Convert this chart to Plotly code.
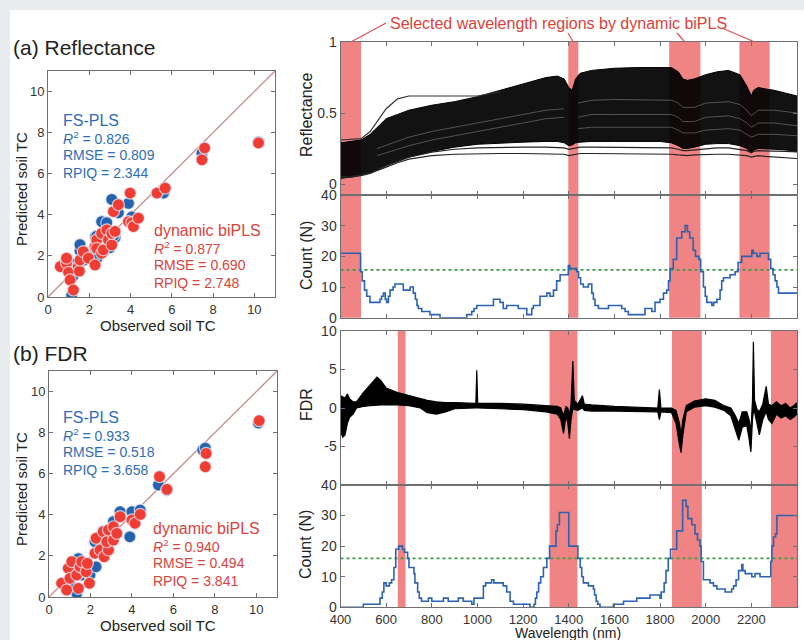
import plotly.graph_objects as go

W, H = 804, 640
def px(x): return x / W
def py(y): return 1 - y / H

FONT = "Liberation Sans, Arial, sans-serif"
BLUE = "#2563b0"
RED = "#ef3d33"
BLUE_T = "#2f6db5"
RED_T = "#d8433b"
BAND = "#f08383"

# ---------------- scatter data (observed, predicted) ----------------
a_fs_obs = [0.7, 0.9, 1.15, 1.2, 1.3, 1.55, 1.55, 1.75, 2.0, 2.12, 2.3, 2.36, 2.36, 2.6, 2.7, 2.85, 2.9, 3.0, 3.09, 3.25, 3.41, 3.2, 3.9, 4.06, 5.6, 7.46, 10.2]
a_fs_pred = [1.55, 1.85, 0.1, 1.0, 1.6, 2.25, 2.55, 1.8, 1.95, 1.97, 2.95, 2.97, 1.85, 3.67, 2.2, 3.62, 3.2, 2.4, 4.75, 2.9, 4.1, 3.0, 4.56, 3.9, 5.06, 7.0, 7.55]
a_bi_obs = [0.6, 0.9, 0.9, 1.0, 1.07, 1.23, 1.47, 1.52, 1.55, 1.71, 1.96, 2.28, 2.28, 2.36, 2.36, 2.6, 2.68, 2.6, 2.85, 2.93, 3.09, 3.09, 3.25, 3.17, 3.41, 3.98, 3.9, 4.06, 4.14, 4.38, 5.28, 5.68, 7.46, 7.59, 10.2]
a_bi_pred = [1.48, 1.65, 1.89, 1.2, 0.83, 0.34, 1.48, 1.26, 1.8, 2.21, 1.89, 2.45, 1.56, 2.78, 2.37, 2.13, 2.29, 3.1, 3.27, 2.78, 2.54, 3.1, 3.19, 4.16, 4.49, 5.06, 3.67, 3.62, 3.43, 3.84, 5.06, 5.3, 6.68, 7.25, 7.5]

b_fs_obs = [1.01, 1.34, 1.42, 1.58, 1.98, 2.27, 2.22, 2.54, 2.8, 2.95, 3.11, 3.43, 3.9, 4.0, 4.4, 5.28, 5.69, 7.42, 7.54, 10.1, 1.2, 2.6]
b_fs_pred = [0.67, 0.18, 1.87, 1.07, 1.07, 1.47, 2.69, 2.77, 2.45, 3.03, 3.67, 4.15, 2.93, 4.15, 4.23, 5.45, 5.2, 7.15, 7.25, 8.47, 1.5, 3.2]
b_bi_obs = [0.61, 0.85, 0.93, 1.01, 1.1, 1.34, 1.42, 1.5, 1.58, 1.79, 1.85, 1.95, 2.27, 2.22, 2.46, 2.66, 2.62, 2.87, 2.79, 2.87, 3.11, 3.11, 3.27, 3.43, 4.0, 4.15, 4.4, 5.33, 5.69, 7.54, 7.58, 10.14]
b_bi_pred = [0.67, 0.34, 1.4, 0.91, 1.72, 1.07, 0.42, 1.47, 1.72, 1.23, 1.64, 0.67, 2.86, 2.13, 2.29, 1.96, 3.18, 2.29, 2.69, 3.26, 2.77, 3.42, 3.1, 3.91, 3.75, 3.59, 4.02, 5.86, 5.24, 6.34, 6.99, 8.58]

diag = [0, 11]

# ---------------- spectra (reflectance bundle envelope + single curves) ----------------
refl_wl = [400, 450, 490, 530, 560, 600, 650, 700, 800, 900, 1000, 1100, 1200, 1300, 1350, 1380, 1400, 1415, 1430, 1450,
           1500, 1600, 1700, 1800, 1850, 1880, 1900, 1920, 1950, 2000, 2050, 2100, 2150, 2180, 2200, 2210, 2230, 2260, 2300, 2350, 2400]
refl_hi = [0.29, 0.30, 0.31, 0.35, 0.40, 0.46, 0.49, 0.52, 0.555, 0.58, 0.615, 0.66, 0.71, 0.75, 0.76, 0.74, 0.68, 0.66, 0.74, 0.78,
           0.80, 0.815, 0.82, 0.817, 0.82, 0.79, 0.74, 0.73, 0.74, 0.77, 0.79, 0.80, 0.77, 0.69, 0.62, 0.66, 0.68, 0.67, 0.66, 0.64, 0.62]
refl_lo = [0.04, 0.05, 0.065, 0.08, 0.10, 0.13, 0.16, 0.19, 0.23, 0.26, 0.28, 0.29, 0.295, 0.30, 0.30, 0.29, 0.27, 0.275, 0.29, 0.295,
           0.30, 0.30, 0.30, 0.30, 0.29, 0.27, 0.25, 0.25, 0.26, 0.28, 0.285, 0.285, 0.27, 0.25, 0.22, 0.24, 0.25, 0.25, 0.245, 0.24, 0.23]
refl_low1 = [0.05, 0.055, 0.065, 0.08, 0.10, 0.13, 0.16, 0.19, 0.225, 0.245, 0.255, 0.26, 0.26, 0.26, 0.26, 0.255, 0.245, 0.25, 0.255, 0.26,
             0.26, 0.26, 0.26, 0.26, 0.255, 0.245, 0.235, 0.235, 0.24, 0.25, 0.255, 0.255, 0.245, 0.235, 0.22, 0.23, 0.235, 0.235, 0.235, 0.23, 0.227]
refl_low2 = [0.045, 0.05, 0.06, 0.075, 0.095, 0.12, 0.15, 0.175, 0.20, 0.21, 0.215, 0.215, 0.215, 0.215, 0.215, 0.21, 0.20, 0.205, 0.21, 0.215,
             0.215, 0.215, 0.215, 0.215, 0.21, 0.205, 0.20, 0.20, 0.205, 0.21, 0.21, 0.21, 0.205, 0.20, 0.19, 0.195, 0.20, 0.195, 0.19, 0.185, 0.18]
refl_out_wl = [400, 490, 530, 560, 600, 650, 700, 800, 900, 1000, 1100]
refl_out = [0.31, 0.32, 0.37, 0.44, 0.53, 0.60, 0.62, 0.62, 0.62, 0.62, 0.65]

# light gaps visible between the dense curves
gap_r_wl = [1440, 1500, 1600, 1700, 1800, 1850, 1880, 1900, 1950, 2000, 2100, 2150, 2180, 2200, 2230, 2300, 2400]
gap_r1 = [0.47, 0.49, 0.49, 0.49, 0.49, 0.49, 0.47, 0.44, 0.44, 0.47, 0.48, 0.46, 0.43, 0.40, 0.43, 0.43, 0.41]
gap_r2 = [0.57, 0.59, 0.595, 0.595, 0.595, 0.59, 0.57, 0.54, 0.54, 0.57, 0.58, 0.56, 0.52, 0.48, 0.52, 0.52, 0.50]
gap_r3 = [0.39, 0.40, 0.40, 0.40, 0.40, 0.40, 0.38, 0.36, 0.36, 0.38, 0.39, 0.38, 0.35, 0.33, 0.35, 0.35, 0.34]
gap_l_wl = [560, 700, 800, 900, 1000, 1100, 1200, 1300, 1380]
gap_l1 = [0.25, 0.33, 0.37, 0.40, 0.43, 0.46, 0.49, 0.52, 0.53]
gap_l2 = [0.20, 0.27, 0.31, 0.34, 0.37, 0.40, 0.43, 0.46, 0.47]

fdr_wl = [400, 410, 420, 430, 440, 455, 470, 480, 500, 530, 560, 575, 600, 650, 700, 750, 780, 820, 860, 900,
          990, 993, 997, 1001, 1100, 1200, 1300, 1350, 1365, 1377, 1388, 1396, 1403, 1410, 1418, 1424, 1440, 1460, 1468, 1500,
          1600, 1700, 1790, 1797, 1804, 1850, 1870, 1885, 1892, 1900, 1915, 1950, 2000, 2040, 2080, 2110, 2130, 2145, 2160, 2180,
          2190, 2198, 2205, 2209, 2214, 2225, 2235, 2250, 2265, 2275, 2290, 2310, 2330, 2350, 2370, 2385, 2400]
fdr_hi = [1.6, 1.4, 1.3, 1.8, 1.2, 0.8, 0.8, 1.2, 2.0, 3.0, 4.0, 3.6, 2.6, 2.0, 1.6, 1.3, 1.0, 0.8, 0.7, 0.7,
          0.6, 0.6, 4.9, 0.6, 0.6, 0.5, 0.3, 0.2, 0.0, -1.0, 0.2, 0.0, -1.0, 0.5, 6.1, 1.0, 0.5, 1.6, 0.5, 0.4,
          0.2, 0.1, 0.0, 2.4, 0.0, 0.0, -0.3, -2.0, -3.5, -1.5, 0.3, 0.9, 1.2, 1.0, 0.3, 0.0, -1.0, -2.0, -0.5, -0.5,
          -1.5, -3.0, 1.0, 8.6, 1.0, -0.2, -0.5, 0.5, 2.8, 0.5, 0.3, 0.8, 0.3, 0.6, 0.0, 0.3, 0.7]
fdr_lo = [-3.0, -3.8, -3.5, -2.0, -1.2, -0.8, 0.0, 0.1, 0.2, 0.3, 0.4, 0.4, 0.4, 0.4, 0.3, 0.0, -0.6, -0.8, -0.5, -0.1,
          0.0, 0.0, 0.0, 0.0, -0.1, -0.2, -0.5, -0.8, -1.5, -3.3, -1.0, -2.0, -4.0, -1.5, 0.0, -0.2, -0.3, 0.0, -0.3, -0.4,
          -0.4, -0.5, -0.5, -1.5, -0.5, -0.6, -2.0, -4.8, -5.8, -3.5, -0.5, 0.1, 0.3, 0.1, -0.3, -1.0, -3.0, -4.2, -2.5, -2.3,
          -4.0, -5.7, -1.5, -0.5, -0.5, -2.0, -3.5, -1.5, -0.5, -1.5, -2.0, -0.8, -1.3, -1.0, -1.5, -1.2, -0.8]

# ---------------- selection counts (step start wavelength, count) ----------------
count_a_wl = [400, 488, 495, 505, 515, 529, 573, 580, 588, 596, 602, 610, 617, 630, 639, 675, 705, 719, 728, 735, 741, 756, 792, 836,
              953, 975, 985, 997, 1070, 1099, 1113, 1128, 1179, 1216, 1238, 1245, 1274, 1304, 1318, 1333, 1347, 1362,
              1398, 1405, 1435, 1443, 1452, 1464, 1486, 1501, 1508, 1515, 1530, 1574, 1632, 1647, 1661, 1734, 1764, 1778,
              1800, 1815, 1829, 1837, 1844, 1858, 1873, 1895, 1910, 1920, 1930, 1945, 1955, 1970, 1978, 1990, 1998, 2005,
              2027, 2035, 2049, 2063, 2070, 2078, 2107, 2129, 2142, 2158, 2202, 2209, 2224, 2238, 2275, 2285, 2295, 2304,
              2312, 2319, 2400]
count_a = [21, 15, 12, 9, 7, 5, 6, 7, 8, 6, 5, 7, 9, 10, 11, 9, 10, 8, 6, 4, 3, 2, 1, 0,
           1, 2, 3, 4, 6, 5, 3, 4, 3, 1, 3, 4, 7, 8, 7, 9, 12, 14,
           17, 16, 15, 13, 11, 10, 11, 8, 6, 4, 3, 4, 3, 2, 1, 3, 2, 5,
           6, 8, 9, 12, 16, 19, 26, 28, 30, 28, 26, 22, 20, 19, 15, 10, 7, 5,
           4, 5, 6, 9, 12, 13, 14, 15, 18, 20, 22, 21, 20, 21, 19, 16, 14, 12,
           10, 8, 8]
count_b_wl = [400, 500, 573, 583, 590, 600, 614, 624, 634, 642, 655, 672, 680, 694, 700, 722, 726, 738, 745, 755, 785, 800,
              851, 872, 916, 938, 975, 985, 1026, 1036, 1062, 1072, 1113, 1128, 1143, 1158, 1230, 1248, 1254, 1260, 1268,
              1277, 1289, 1304, 1316, 1344, 1350, 1359, 1400, 1440, 1450, 1457, 1464, 1486, 1508, 1513, 1520, 1527, 1537,
              1596, 1640, 1698, 1756, 1800, 1805, 1818, 1826, 1836, 1846, 1873, 1899, 1914, 1922, 1939, 1953, 1964, 1975,
              1980, 1990, 2019, 2034, 2049, 2085, 2114, 2122, 2133, 2144, 2158, 2163, 2173, 2202, 2216, 2238, 2285, 2290,
              2297, 2306, 2312, 2400]
count_b = [0, 1, 3, 5, 8, 7, 8, 9, 13, 19, 20, 19, 18, 16, 13, 11, 8, 5, 3, 2, 3, 2,
           3, 2, 3, 2, 1, 3, 7, 8, 9, 8, 7, 5, 2, 1, 0, 1, 3, 5, 8,
           10, 13, 16, 20, 25, 27, 31, 20, 16, 13, 10, 8, 7, 6, 4, 2, 1, 0,
           1, 2, 3, 4, 3, 5, 8, 12, 16, 19, 25, 35, 33, 29, 27, 24, 22, 20,
           15, 9, 8, 7, 6, 5, 6, 7, 9, 12, 14, 12, 11, 10, 11, 10, 15, 20,
           23, 24, 30, 30]
thresh_a = [15.6, 15.6]
thresh_b = [16, 16]
wl_range = [400, 2400]

bands_a = [(400, 490), (1398, 1442), (1840, 1977), (2148, 2280)]
bands_b = [(651, 685), (1316, 1438), (1852, 1983), (2286, 2400)]

wl_ticks = list(range(400, 2401, 200))

# ---------------- layout geometry (pixels) ----------------
RX0, RX1 = 340.5, 797

fig = go.Figure()

def scat(x, y, color, xa, ya):
    fig.add_trace(go.Scatter(x=x, y=y, mode="markers", xaxis=xa, yaxis=ya,
                             marker=dict(size=12, color=color,
                                         line=dict(width=1.2, color="rgba(235,235,245,0.75)"))))

for xa, ya, fo, fp, bo, bp in [("x", "y", a_fs_obs, a_fs_pred, a_bi_obs, a_bi_pred),
                                ("x2", "y2", b_fs_obs, b_fs_pred, b_bi_obs, b_bi_pred)]:
    fig.add_trace(go.Scatter(x=diag, y=diag, mode="lines", xaxis=xa, yaxis=ya,
                             line=dict(color="#c48a8c", width=1.3)))
    scat(fo, fp, BLUE, xa, ya)
    scat(bo, bp, RED, xa, ya)

# reflectance
fig.add_trace(go.Scatter(x=refl_wl, y=refl_lo, mode="lines", xaxis="x3", yaxis="y3",
                         line=dict(color="black", width=1)))
fig.add_trace(go.Scatter(x=refl_wl, y=refl_hi, mode="lines", xaxis="x3", yaxis="y3", fill="tonexty",
                         fillcolor="rgba(0,0,0,0.93)", line=dict(color="black", width=1)))
for gx, gys in [(gap_r_wl, (gap_r1, gap_r2, gap_r3)), (gap_l_wl, (gap_l1, gap_l2))]:
    for gy in gys:
        fig.add_trace(go.Scatter(x=gx, y=gy, mode="lines", xaxis="x3", yaxis="y3",
                                 line=dict(color="rgba(255,255,255,0.35)", width=0.8)))
for arr in (refl_low1, refl_low2):
    fig.add_trace(go.Scatter(x=refl_wl, y=arr, mode="lines", xaxis="x3", yaxis="y3",
                             line=dict(color="#222", width=1.2)))
fig.add_trace(go.Scatter(x=refl_out_wl, y=refl_out, mode="lines", xaxis="x3", yaxis="y3",
                         line=dict(color="#333", width=1.2)))

# FDR
fig.add_trace(go.Scatter(x=fdr_wl, y=fdr_lo, mode="lines", xaxis="x5", yaxis="y5",
                         line=dict(color="black", width=1.2)))
fig.add_trace(go.Scatter(x=fdr_wl, y=fdr_hi, mode="lines", xaxis="x5", yaxis="y5", fill="tonexty",
                         fillcolor="black", line=dict(color="black", width=1.2)))

# counts
for xa, ya, wl, cnt, th in [("x4", "y4", count_a_wl, count_a, thresh_a), ("x6", "y6", count_b_wl, count_b, thresh_b)]:
    fig.add_trace(go.Scatter(x=wl_range, y=th, mode="lines", xaxis=xa, yaxis=ya,
                             line=dict(color="#3a9a45", width=1.6, dash="dot")))
    fig.add_trace(go.Scatter(x=wl, y=cnt, mode="lines", xaxis=xa, yaxis=ya, line_shape="hv",
                             line=dict(color="#2b63b2", width=1.6)))

shapes = [dict(type="rect", xref="paper", yref="paper", x0=px(10), x1=1.02, y0=-0.02, y1=py(10),
               fillcolor="white", line=dict(width=0), layer="below")]
for bands, axes in [(bands_a, [("x3", "y3"), ("x4", "y4")]), (bands_b, [("x5", "y5"), ("x6", "y6")])]:
    for b0, b1 in bands:
        for xa, ya in axes:
            shapes.append(dict(type="rect", xref=xa, yref=ya + " domain", x0=b0, x1=b1, y0=0, y1=1,
                               fillcolor=BAND, line=dict(width=0), layer="below"))

def wl2px(w):
    return RX0 + (w - 400) / 2000 * (RX1 - RX0)

# leader lines from the label to the selected bands of panel (a)
lead_start = [(386, 23), (568, 33), (677, 33), (722, 28)]
for (sx, sy), (b0, b1) in zip(lead_start, bands_a):
    ex = wl2px((b0 + b1) / 2)
    shapes.append(dict(type="line", xref="paper", yref="paper", x0=px(sx), y0=py(sy), x1=px(ex), y1=py(42),
                       line=dict(color="#d9534f", width=1.2)))

ann = []
def text(t, x, y, size, color="#222", xanchor="left", angle=0):
    ann.append(dict(text=t, x=px(x), y=py(y), xref="paper", yref="paper", showarrow=False,
                    xanchor=xanchor, yanchor="middle", textangle=angle,
                    font=dict(family=FONT, size=size, color=color)))

text("(a) Reflectance", 11, 47, 21)
text("(b) FDR", 11, 353, 21)
for (x, y, lines) in [(61, 120, ["FS-PLS", "<i>R</i><sup>2</sup> = 0.826", "RMSE = 0.809", "RPIQ = 2.344"]),
                      (61, 417, ["FS-PLS", "<i>R</i><sup>2</sup> = 0.933", "RMSE = 0.518", "RPIQ = 3.658"])]:
    text(lines[0], x, y, 16, BLUE_T)
    for i, l in enumerate(lines[1:]):
        text(l, x, y + 17.5 * (i + 1), 14, BLUE_T)
for (x, y, lines) in [(152, 230, ["dynamic biPLS", "<i>R</i><sup>2</sup> = 0.877", "RMSE = 0.690", "RPIQ = 2.748"]),
                      (151, 528, ["dynamic biPLS", "<i>R</i><sup>2</sup> = 0.940", "RMSE = 0.494", "RPIQ = 3.841"])]:
    text(lines[0], x, y, 16, RED_T)
    for i, l in enumerate(lines[1:]):
        text(l, x, y + 17.5 * (i + 1), 14, RED_T)

text("Predicted soil TC", 21, 189, 15, xanchor="center", angle=-90)
text("Predicted soil TC", 21, 489, 15, xanchor="center", angle=-90)
text("Observed soil TC", 158, 325, 15, xanchor="center")
text("Observed soil TC", 158, 625, 15, xanchor="center")
text("Reflectance", 306, 115, 16, xanchor="center", angle=-90)
text("Count (N)", 306, 256, 16, xanchor="center", angle=-90)
text("FDR", 306, 405, 16, xanchor="center", angle=-90)
text("Count (N)", 305, 545, 16, xanchor="center", angle=-90)
text("Wavelength (nm)", 568, 633, 14, xanchor="center")
text("Selected wavelength regions by dynamic biPLS", 558, 24, 16, RED_T, xanchor="center")

def ax(domain, rng, tickvals, ticktext=None, show=True, size=13):
    d = dict(domain=domain, range=rng, showline=True, linecolor="#6f6f6f", linewidth=1, mirror="allticks",
             ticks="inside", ticklen=4, tickcolor="#6f6f6f", tickwidth=1, showgrid=False, zeroline=False,
             tickvals=tickvals, showticklabels=show, automargin=False, fixedrange=True,
             tickfont=dict(family=FONT, size=size, color="#333"))
    if ticktext is not None:
        d["ticktext"] = ticktext
    return d

sc_ticks = [0, 2, 4, 6, 8, 10]
RXD = [px(RX0), px(RX1)]
layout = dict(
    width=W, height=H, margin=dict(l=0, r=0, t=0, b=0),
    paper_bgcolor="#e9ecef", plot_bgcolor="rgba(0,0,0,0)", showlegend=False,
    shapes=shapes, annotations=ann,
    xaxis=ax([px(48), px(275)], [0, 11], sc_ticks),
    yaxis=ax([py(297), py(71)], [0, 11], sc_ticks),
    xaxis2=ax([px(49), px(277)], [0, 11], sc_ticks),
    yaxis2=ax([py(597), py(371)], [0, 11], sc_ticks),
    xaxis3=ax(RXD, wl_range, wl_ticks, show=False),
    yaxis3=ax([py(195), py(42)], [-0.077, 1], [0, 0.5, 1], size=14),
    xaxis4=ax(RXD, wl_range, wl_ticks, show=False),
    yaxis4=ax([py(317.7), py(195)], [0, 40], [0, 10, 20, 30, 40], size=14),
    xaxis5=ax(RXD, wl_range, wl_ticks, show=False),
    yaxis5=ax([py(485), py(331)], [-10, 10], [-5, 0, 5, 10], ["-5", "0", "5", "10"], size=14),
    xaxis6=ax(RXD, wl_range, wl_ticks, size=13),
    yaxis6=ax([py(607.3), py(485)], [0, 40], [0, 10, 20, 30, 40], size=14),
)
for i in range(3, 7):
    layout["yaxis%d" % i]["anchor"] = "x%d" % i
    layout["xaxis%d" % i]["anchor"] = "y%d" % i
layout["yaxis2"]["anchor"] = "x2"
layout["xaxis2"]["anchor"] = "y2"
fig.update_layout(**layout)

fig.write_html("out.html")
